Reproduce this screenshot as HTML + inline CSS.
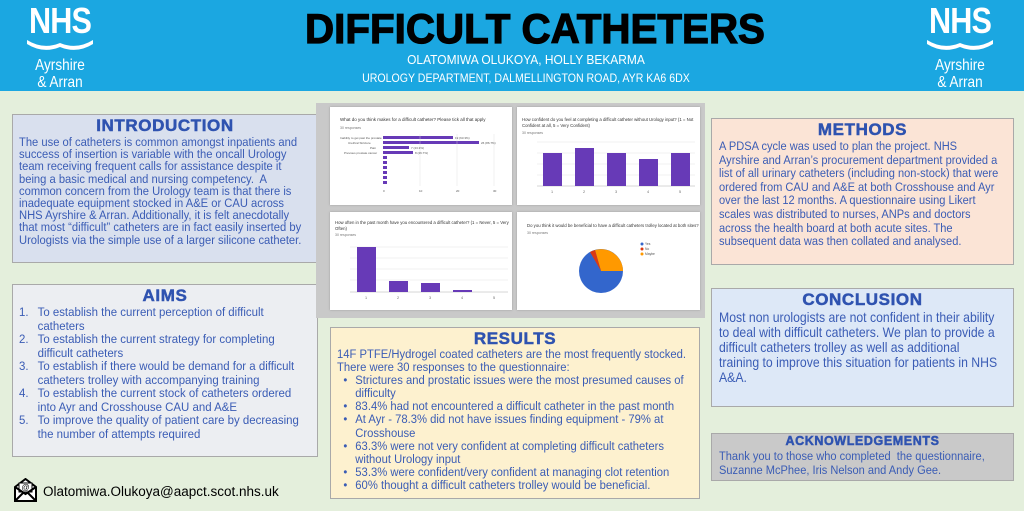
<!DOCTYPE html>
<html><head><meta charset="utf-8"><style>
*{margin:0;padding:0;box-sizing:border-box}
body{width:1024px;height:511px;overflow:hidden;background:#e4efdc;font-family:"Liberation Sans",Arial,sans-serif;position:relative}
.hdr{position:absolute;left:0;top:0;width:1024px;height:91px;background:#1ba7e1}
.logo{position:absolute;color:#fff;text-align:center;width:80px}
.logo .n{font-weight:bold;font-size:36px;letter-spacing:-1px;line-height:34px;transform:scaleX(.85)}
.logo .a{font-size:16px;line-height:17px;transform:scaleX(.85)}
.title{position:absolute;left:23px;width:1024px;top:5px;text-align:center;font-weight:900;font-size:42px;color:#000;transform:scaleX(.96);-webkit-text-stroke:1.2px #000}
.sub{position:absolute;left:14px;width:1024px;text-align:center;color:#fff;font-size:12px;transform:scaleX(.92)}
.box{position:absolute;border:1px solid #a9a9a9}
h2{position:absolute;text-align:center;font-size:17px;font-weight:900;color:#2f53b0;line-height:19px;letter-spacing:.6px;-webkit-text-stroke:.5px #2f53b0;white-space:nowrap}
.t{position:absolute;white-space:nowrap;transform-origin:0 0;transform:scaleX(.9);color:#3a5cb5;font-size:12.3px}
.t div{position:relative}
.t .b{padding-left:20px}
.t .b:before{content:"•";position:absolute;left:7px}
.t .c{padding-left:20px}
.t .n{padding-left:20px}
.t .n span{position:absolute;left:0}
.card{position:absolute;background:#fff;box-shadow:0 0 2px #999}
svg text{font-family:"Liberation Sans",sans-serif}
</style></head><body>
<div class="hdr"></div>
<div class="logo" style="left:20px;top:4px"><div class="n">NHS</div>
<svg width="70" height="14" viewBox="0 0 70 14"><path d="M2 2 Q18 12 35 5 Q52 12 68 2 L68 6 Q52 16 35 9 Q18 16 2 6Z" fill="#fff"/></svg>
<div class="a">Ayrshire<br>&amp; Arran</div></div>
<div class="logo" style="left:920px;top:4px"><div class="n">NHS</div>
<svg width="70" height="14" viewBox="0 0 70 14"><path d="M2 2 Q18 12 35 5 Q52 12 68 2 L68 6 Q52 16 35 9 Q18 16 2 6Z" fill="#fff"/></svg>
<div class="a">Ayrshire<br>&amp; Arran</div></div>
<div class="title">DIFFICULT CATHETERS</div>
<div class="sub" style="top:52px;font-size:13px">OLATOMIWA OLUKOYA, HOLLY BEKARMA</div>
<div class="sub" style="top:73px;font-size:11.5px">UROLOGY DEPARTMENT, DALMELLINGTON ROAD, AYR KA6 6DX</div>

<div class="box" style="left:12px;top:114px;width:306px;height:149px;background:#d9e0ee"></div>
<h2 style="left:12px;width:306px;top:116px">INTRODUCTION</h2>
<div class="t" style="left:19px;top:136px;line-height:12.2px;transform:scaleX(.91)">
<div>The use of catheters is common amongst inpatients and</div><div>success of insertion is variable with the oncall Urology</div><div>team receiving frequent calls for assistance despite it</div><div>being a basic medical and nursing competency.&nbsp; A</div><div>common concern from the Urology team is that there is</div><div>inadequate equipment stocked in A&amp;E or CAU across</div><div>NHS Ayrshire &amp; Arran. Additionally, it is felt anecdotally</div><div>that most “difficult” catheters are in fact easily inserted by</div><div>Urologists via the simple use of a larger silicone catheter.</div></div>

<div class="box" style="left:12px;top:284px;width:306px;height:173px;background:#eceef2"></div>
<h2 style="left:12px;width:306px;top:286px">AIMS</h2>
<div class="t" style="left:19px;top:306px;line-height:13.5px;transform:scaleX(.93)">
<div class="n"><span>1.</span>To establish the current perception of difficult</div><div class="c">catheters</div>
<div class="n"><span>2.</span>To establish the current strategy for completing</div><div class="c">difficult catheters</div>
<div class="n"><span>3.</span>To establish if there would be demand for a difficult</div><div class="c">catheters trolley with accompanying training</div>
<div class="n"><span>4.</span>To establish the current stock of catheters ordered</div><div class="c">into Ayr and Crosshouse CAU and A&amp;E</div>
<div class="n"><span>5.</span>To improve the quality of patient care by decreasing</div><div class="c">the number of attempts required</div></div>

<svg style="position:absolute;left:13px;top:478px" width="25" height="24" viewBox="0 0 25 24"><path d="M2 9 L12.5 1 L23 9 V23 H2Z" fill="#fff" stroke="#000" stroke-width="2"/><rect x="6" y="5" width="13" height="9" fill="#fff" stroke="#000"/><text x="12.5" y="12" font-size="8" text-anchor="middle">@</text><path d="M2 9 L12.5 16 L23 9 M2 23 L10 15 M23 23 L15 15" fill="none" stroke="#000" stroke-width="2"/></svg>
<div style="position:absolute;left:43px;top:484px;font-size:13.5px;color:#000">Olatomiwa.Olukoya@aapct.scot.nhs.uk</div>

<div style="position:absolute;left:316px;top:103px;width:389px;height:215px;background:#c9c9c9"></div>
<div class="card" style="left:330px;top:107px;width:182px;height:98px">
<svg width="182" height="98"><text x="10" y="14" font-size="4.5" fill="#333">What do you think makes for a difficult catheter? Please tick all that apply</text><text x="10" y="22" font-size="3.5" fill="#777">30 responses</text>
<g fill="#673ab7"><rect x="53" y="29" width="70" height="3"/><rect x="53" y="34" width="96" height="3"/><rect x="53" y="39" width="26" height="3"/><rect x="53" y="44" width="30" height="3"/><rect x="53" y="49" width="4" height="3"/><rect x="53" y="54" width="4" height="3"/><rect x="53" y="59" width="4" height="3"/><rect x="53" y="64" width="4" height="3"/><rect x="53" y="69" width="4" height="3"/><rect x="53" y="74" width="4" height="3"/></g>
<g stroke="#ddd" stroke-width=".4"><line x1="90" y1="27" x2="90" y2="79"/><line x1="127" y1="27" x2="127" y2="79"/><line x1="164" y1="27" x2="164" y2="79"/></g>
<g font-size="3" fill="#555"><text x="125" y="32">19 (63.3%)</text><text x="151" y="37">26 (86.7%)</text><text x="81" y="42">7 (23.3%)</text><text x="85" y="47">8 (26.7%)</text><text x="10" y="32">Inability to get past the prostate</text><text x="18" y="37">Urethral Stricture</text><text x="40" y="42">Pain</text><text x="14" y="47">Previous prostate cancer</text><text x="53" y="85">0</text><text x="89" y="85">10</text><text x="126" y="85">20</text><text x="163" y="85">30</text></g></svg></div>
<div class="card" style="left:517px;top:107px;width:183px;height:98px">
<svg width="183" height="98"><text x="5" y="14" font-size="4.3" fill="#333">How confident do you feel at completing a difficult catheter without Urology input? (1 = Not</text><text x="5" y="20" font-size="4.3" fill="#333">Confident at all, 5 = Very Confident)</text><text x="5" y="27" font-size="3.5" fill="#777">30 responses</text>
<g stroke="#ddd" stroke-width=".4"><line x1="20" y1="35" x2="178" y2="35"/><line x1="20" y1="46" x2="178" y2="46"/><line x1="20" y1="57" x2="178" y2="57"/><line x1="20" y1="68" x2="178" y2="68"/><line x1="20" y1="79" x2="178" y2="79" stroke="#999"/></g>
<g fill="#673ab7"><rect x="26" y="46" width="19" height="33"/><rect x="58" y="41" width="19" height="38"/><rect x="90" y="46" width="19" height="33"/><rect x="122" y="52" width="19" height="27"/><rect x="154" y="46" width="19" height="33"/></g>
<g font-size="3.3" fill="#555" text-anchor="middle"><text x="35" y="86">1</text><text x="67" y="86">2</text><text x="99" y="86">3</text><text x="131" y="86">4</text><text x="163" y="86">5</text></g></svg></div>
<div class="card" style="left:330px;top:212px;width:182px;height:98px">
<svg width="182" height="98"><text x="5" y="12" font-size="4.3" fill="#333">How often in the past month have you encountered a difficult catheter? (1 = Never, 5 = Very</text><text x="5" y="18" font-size="4.3" fill="#333">Often)</text><text x="5" y="24" font-size="3.5" fill="#777">30 responses</text>
<g stroke="#ddd" stroke-width=".4"><line x1="20" y1="35" x2="178" y2="35"/><line x1="20" y1="46" x2="178" y2="46"/><line x1="20" y1="57" x2="178" y2="57"/><line x1="20" y1="68" x2="178" y2="68"/><line x1="20" y1="80" x2="178" y2="80" stroke="#999"/></g>
<g fill="#673ab7"><rect x="27" y="35" width="19" height="45"/><rect x="59" y="69" width="19" height="11"/><rect x="91" y="71" width="19" height="9"/><rect x="123" y="78" width="19" height="2"/></g>
<g font-size="3.3" fill="#555" text-anchor="middle"><text x="36" y="87">1</text><text x="68" y="87">2</text><text x="100" y="87">3</text><text x="132" y="87">4</text><text x="164" y="87">5</text></g></svg></div>
<div class="card" style="left:517px;top:212px;width:183px;height:98px">
<svg width="183" height="98"><text x="10" y="15" font-size="4.3" fill="#333">Do you think it would be beneficial to have a difficult catheters trolley located at both sites?</text><text x="10" y="22" font-size="3.5" fill="#777">30 responses</text>
<circle cx="84" cy="59" r="22" fill="#3366cc"/><path d="M84 59 L106 59 A22 22 0 0 0 78 38 Z" fill="#ff9900"/><path d="M84 59 L78 38 A22 22 0 0 0 73 40 Z" fill="#dc3912"/>
<circle cx="125" cy="32" r="1.5" fill="#3366cc"/><circle cx="125" cy="37" r="1.5" fill="#dc3912"/><circle cx="125" cy="42" r="1.5" fill="#ff9900"/>
<g font-size="3.3" fill="#555"><text x="128" y="33">Yes</text><text x="128" y="38">No</text><text x="128" y="43">Maybe</text></g></svg></div>

<div class="box" style="left:330px;top:327px;width:370px;height:172px;background:#fdf1cf"></div>
<h2 style="left:330px;width:370px;top:329px">RESULTS</h2>
<div class="t" style="left:337px;top:348px;line-height:13.1px;transform:scaleX(.915)">
<div>14F PTFE/Hydrogel coated catheters are the most frequently stocked.</div><div>There were 30 responses to the questionnaire:</div>
<div class="b">Strictures and prostatic issues were the most presumed causes of</div><div class="c">difficulty</div>
<div class="b">83.4% had not encountered a difficult catheter in the past month</div>
<div class="b">At Ayr - 78.3% did not have issues finding equipment - 79% at</div><div class="c">Crosshouse</div>
<div class="b">63.3% were not very confident at completing difficult catheters</div><div class="c">without Urology input</div>
<div class="b">53.3% were confident/very confident at managing clot retention</div>
<div class="b">60% thought a difficult catheters trolley would be beneficial.</div></div>

<div class="box" style="left:711px;top:118px;width:303px;height:147px;background:#fbe4d6"></div>
<h2 style="left:711px;width:303px;top:120px">METHODS</h2>
<div class="t" style="left:719px;top:140px;line-height:13.6px">
<div>A PDSA cycle was used to plan the project. NHS</div><div>Ayrshire and Arran’s procurement department provided a</div><div>list of all urinary catheters (including non-stock) that were</div><div>ordered from CAU and A&amp;E at both Crosshouse and Ayr</div><div>over the last 12 months. A questionnaire using Likert</div><div>scales was distributed to nurses, ANPs and doctors</div><div>across the health board at both acute sites. The</div><div>subsequent data was then collated and analysed.</div></div>

<div class="box" style="left:711px;top:288px;width:303px;height:119px;background:#dde8f7"></div>
<h2 style="left:711px;width:303px;top:290px">CONCLUSION</h2>
<div class="t" style="left:719px;top:310px;line-height:15px;font-size:13.6px">
<div>Most non urologists are not confident in their ability</div><div>to deal with difficult catheters. We plan to provide a</div><div>difficult catheters trolley as well as additional</div><div>training to improve this situation for patients in NHS</div><div>A&amp;A.</div></div>

<div class="box" style="left:711px;top:433px;width:303px;height:48px;background:#c9c9c9"></div>
<h2 style="left:711px;width:303px;top:434px;font-size:12.5px;line-height:14px">ACKNOWLEDGEMENTS</h2>
<div class="t" style="left:719px;top:449px;line-height:14px">
<div>Thank you to those who completed&nbsp; the questionnaire,</div><div>Suzanne McPhee, Iris Nelson and Andy Gee.</div></div>
</body></html>
